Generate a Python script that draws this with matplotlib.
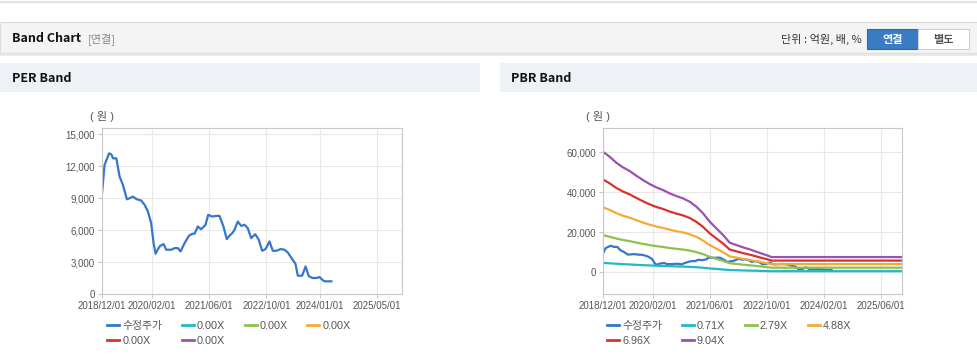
import matplotlib
matplotlib.use('Agg')
import matplotlib.pyplot as plt
import matplotlib.dates as mdates
from matplotlib.patches import Rectangle
from matplotlib.lines import Line2D
import numpy as np

plt.rcParams['font.family'] = ['Liberation Sans', 'Noto Sans CJK KR', 'DejaVu Sans']

# adjusted close (수정주가)
price_dates = ['2018-12-01', '2018-12-23', '2019-01-30', '2019-02-18', '2019-03-05', '2019-04-02',
               '2019-04-30', '2019-05-28', '2019-07-01', '2019-07-24', '2019-08-21', '2019-09-24',
               '2019-10-31', '2019-11-29', '2019-12-27', '2020-01-24', '2020-02-13', '2020-03-01',
               '2020-03-21', '2020-04-10', '2020-05-08', '2020-05-31', '2020-07-13', '2020-08-10',
               '2020-09-07', '2020-09-30', '2020-11-03', '2020-12-10', '2021-01-07', '2021-01-27',
               '2021-02-24', '2021-03-24', '2021-04-30', '2021-05-23', '2021-06-26', '2021-07-30',
               '2021-08-27', '2021-09-30', '2021-10-28', '2021-11-20', '2021-12-19', '2022-01-02',
               '2022-01-30', '2022-02-28', '2022-03-28', '2022-04-25', '2022-05-24', '2022-06-27',
               '2022-07-28', '2022-08-25', '2022-09-23', '2022-10-27', '2022-11-24', '2022-12-23',
               '2023-01-29', '2023-03-04', '2023-04-01', '2023-05-08', '2023-06-05', '2023-06-25',
               '2023-08-01', '2023-08-30', '2023-09-27', '2023-10-31', '2023-11-29', '2023-12-27',
               '2024-01-19', '2024-02-08', '2024-04-06']
price = [9470, 12125, 13220, 13125, 12750, 12750, 11030, 10250, 8900, 9000, 9150, 8900,
         8780, 8375, 7750, 6650, 4780, 3780, 4220, 4530, 4690, 4160, 4160, 4310,
         4310, 4000, 4780, 5470, 5660, 5660, 6340, 6090, 6500, 7440, 7280, 7340,
         7340, 6340, 5160, 5470, 5780, 6030, 6810, 6400, 6500, 6190, 5250, 5625,
         5090, 4060, 4220, 4940, 4060, 4060, 4220, 4160, 3900, 3280, 2840, 1720,
         1720, 2590, 1660, 1500, 1500, 1590, 1340, 1190, 1190]

# BPS used for PBR band lines
bps_dates = ['2018-12-01', '2019-01-27', '2019-03-25', '2019-05-21', '2019-07-17', '2019-09-12',
             '2019-11-08', '2020-01-04', '2020-03-01', '2020-04-27', '2020-06-23', '2020-08-19',
             '2020-10-15', '2020-12-11', '2021-02-06', '2021-04-04', '2021-05-31', '2021-07-27',
             '2021-09-22', '2021-11-18', '2022-01-14', '2022-03-12', '2022-05-08', '2022-07-04',
             '2022-08-30', '2022-10-12', '2022-11-09', '2025-11-28']
bps = [6674, 6397, 6065, 5808, 5605, 5346, 5107, 4886, 4701, 4554, 4369, 4222,
       4093, 3908, 3632, 3263, 2802, 2434, 2065, 1640, 1512, 1383, 1272, 1143,
       1014, 921, 848, 848]

per_labels = ['0.00X', '0.00X', '0.00X', '0.00X', '0.00X']
pbr_mult = [0.71, 2.79, 4.88, 6.96, 9.04]
pbr_labels = ['0.71X', '2.79X', '4.88X', '6.96X', '9.04X']

per_xticks = ['2018-12-01', '2020-02-01', '2021-06-01', '2022-10-01', '2024-01-01', '2025-05-01']
pbr_xticks = ['2018-12-01', '2020-02-01', '2021-06-01', '2022-10-01', '2024-02-01', '2025-06-01']
per_yticks = [0, 3000, 6000, 9000, 12000, 15000]
pbr_yticks = [0, 20000, 40000, 60000]

price_color = '#3677c9'
band_colors = ['#23b8c8', '#8dc04d', '#f4ab35', '#d9322c', '#9a52b0']

W, H = 978, 362
fig = plt.figure(figsize=(W / 100, H / 100), dpi=100)
cjk = ['Noto Sans CJK KR', 'DejaVu Sans']

# page chrome drawn in pixel coordinates
bg = fig.add_axes([0, 0, 1, 1])
bg.set_xlim(0, W)
bg.set_ylim(H, 0)
bg.axis('off')
bg.axhline(1.5, color='#e3e3e3', lw=1.5)
bg.add_patch(Rectangle((0, 53), W, 3, color='#e9e9e9', lw=0))
bg.add_patch(Rectangle((0, 22), W, 31, facecolor='#f4f4f4', edgecolor='#dcdcdc', lw=0.8))
bg.text(12, 39, 'Band Chart', fontsize=9, fontweight='bold', color='#111', family=cjk, va='center')
bg.text(88, 39, '[연결]', fontsize=8, color='#888', family=cjk, va='center')
bg.text(862, 39, '단위 : 억원, 배, %', fontsize=8, color='#333', ha='right', va='center', family=cjk)
bg.add_patch(Rectangle((867, 29), 51, 20, facecolor='#3a7dc4', edgecolor='#2f6aa8', lw=0.8))
bg.add_patch(Rectangle((918, 29), 51, 20, facecolor='white', edgecolor='#cfcfcf', lw=0.8))
bg.text(892.5, 39, '연결', fontsize=8, color='white', fontweight='bold', ha='center', va='center', family=cjk)
bg.text(943.5, 39, '별도', fontsize=8, color='#555', fontweight='bold', ha='center', va='center', family=cjk)
bg.add_patch(Rectangle((0, 63), 480, 29, facecolor='#eef2f7', lw=0))
bg.add_patch(Rectangle((500, 63), 478, 29, facecolor='#eef2f7', lw=0))
bg.text(12, 78, 'PER Band', fontsize=9, fontweight='bold', color='#111', family=cjk, va='center')
bg.text(511, 78, 'PBR Band', fontsize=9, fontweight='bold', color='#111', family=cjk, va='center')
bg.text(102, 117, '( 원 )', fontsize=8, color='#555', ha='center', va='center')
bg.text(598, 117, '( 원 )', fontsize=8, color='#555', ha='center', va='center')


def px_axes(x0, x1, y0, y1):
    return fig.add_axes([x0 / W, 1 - y1 / H, (x1 - x0) / W, (y1 - y0) / H])


def style(ax, xticks, yticks, ylim):
    ax.set_xlim(np.datetime64('2018-12-01'), np.datetime64('2025-11-28'))
    ax.set_ylim(*ylim)
    ax.set_xticks([np.datetime64(d) for d in xticks])
    ax.xaxis.set_major_formatter(mdates.DateFormatter('%Y/%m/%d'))
    ax.set_yticks(yticks)
    ax.set_yticklabels([f'{v:,}' for v in yticks])
    ax.grid(True, color='#e8e8e8', lw=0.8)
    ax.set_axisbelow(True)
    for s in ax.spines.values():
        s.set_color('#c8c8c8')
    ax.tick_params(colors='#c8c8c8', labelcolor='#555', labelsize=7, length=3, width=0.8, pad=2)


def legend(ax, handles, labels, x, y):
    # matplotlib fills legend columns top-down; reorder so entries read row by row
    order = [0, 4, 1, 5, 2, 3]
    ax.legend([handles[i] for i in order], [labels[i] for i in order], ncol=4, loc='upper left',
              frameon=False, bbox_to_anchor=(x / W, 1 - y / H), bbox_transform=fig.transFigure,
              fontsize=7.8, handlelength=1.1, handletextpad=0.3, columnspacing=1.8,
              labelspacing=0.45, borderaxespad=0, borderpad=0, labelcolor='#555')


pdates = np.array(price_dates, dtype='datetime64[D]')
bdates = np.array(bps_dates, dtype='datetime64[D]')
handles = [Line2D([], [], color=price_color, lw=2)] + [Line2D([], [], color=c, lw=2) for c in band_colors]

# PER band
ax1 = px_axes(102, 402, 128, 294)
ax1.plot(pdates, price, color=price_color, lw=1.6)
style(ax1, per_xticks, per_yticks, (0, 15600))
legend(ax1, handles, ['수정주가'] + per_labels, 107, 321)

# PBR band
ax2 = px_axes(603, 902, 128, 294)
ax2.plot(pdates, price, color=price_color, lw=1.6)
for m, c in zip(pbr_mult, band_colors):
    ax2.plot(bdates, np.array(bps) * m, color=c, lw=1.6)
style(ax2, pbr_xticks, pbr_yticks, (-10800, 72200))
legend(ax2, handles, ['수정주가'] + pbr_labels, 607, 321)

fig.savefig('out.png', dpi=100)
